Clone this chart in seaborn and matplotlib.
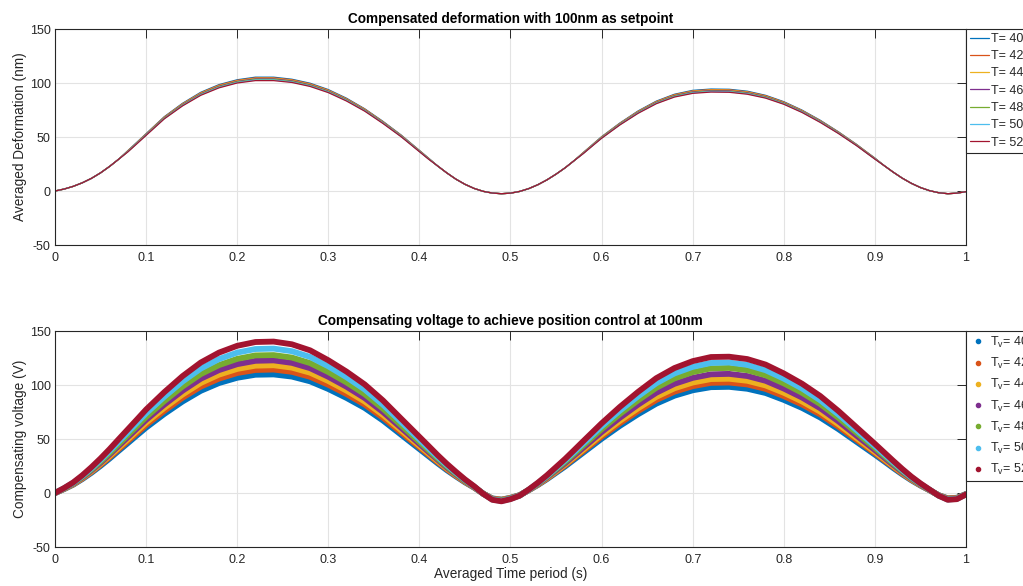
import matplotlib
matplotlib.use("Agg")
import matplotlib.pyplot as plt
from matplotlib.lines import Line2D
import pandas as pd
import seaborn as sns

# ---- data -------------------------------------------------------------
# sample times (s); denser sampling around the turning points
time_s = [0.00, 0.01, 0.02, 0.03, 0.04, 0.05, 0.06, 0.07, 0.08, 0.09, 0.10,
          0.12, 0.14, 0.16, 0.18, 0.20, 0.22, 0.24, 0.26, 0.28, 0.30, 0.32, 0.34, 0.36,
          0.38, 0.39, 0.40, 0.41, 0.42, 0.43, 0.44, 0.45, 0.46, 0.47, 0.48, 0.49,
          0.50, 0.51, 0.52, 0.53, 0.54, 0.55, 0.56, 0.57, 0.58, 0.59, 0.60,
          0.62, 0.64, 0.66, 0.68, 0.70, 0.72, 0.74, 0.76, 0.78, 0.80, 0.82, 0.84, 0.86,
          0.88, 0.89, 0.90, 0.91, 0.92, 0.93, 0.94, 0.95, 0.96, 0.97, 0.98, 0.99, 1.00]

temperatures = [40, 42, 44, 46, 48, 50, 52]

# averaged deformation (nm) for each temperature
deform_T40 = [0, 1.8, 4.3, 7.6, 11.7, 16.8, 22.8, 29.5, 37.4, 45.2, 53.1,
              68.8, 81.2, 91.4, 98.5, 103, 105.4, 105.4, 103.5, 99.8, 93.9, 85.9, 76.1, 64.5,
              51.8, 44.7, 37.6, 30.5, 23.2, 16.8, 11, 6.2, 2.4, -0.3, -1.9, -2.5,
              -2.0, -0.4, 2.2, 5.8, 10.3, 15.6, 21.5, 28.2, 35.7, 43.0, 50.3,
              62.9, 74.1, 83.2, 89.6, 93.2, 94.4, 94.2, 92.4, 88.6, 82.7, 74.9, 65.5, 54.8,
              43.1, 36.7, 30.5, 23.6, 17.5, 11.9, 7.1, 3.2, 0.3, -1.6, -2.5, -2.0, -0.6]
deform_T42 = [0, 1.8, 4.3, 7.6, 11.7, 16.8, 22.8, 29.5, 37.2, 44.9, 52.8,
              68.5, 80.8, 90.9, 98, 102.5, 104.8, 104.8, 103, 99.3, 93.4, 85.4, 75.8, 64.1,
              51.5, 44.4, 37.4, 30.3, 23.2, 16.8, 11, 6.2, 2.4, -0.3, -1.9, -2.5,
              -2.0, -0.4, 2.2, 5.8, 10.3, 15.6, 21.5, 28.2, 35.6, 42.8, 50,
              62.6, 73.7, 82.8, 89.2, 92.7, 93.9, 93.7, 91.9, 88.2, 82.3, 74.5, 65.1, 54.5,
              42.9, 36.6, 30.3, 23.6, 17.5, 11.9, 7.1, 3.2, 0.3, -1.6, -2.5, -2.0, -0.6]
deform_T44 = [0, 1.8, 4.3, 7.6, 11.7, 16.8, 22.8, 29.5, 37.0, 44.7, 52.6,
              68.1, 80.4, 90.5, 97.5, 102, 104.3, 104.3, 102.5, 98.8, 93, 85, 75.4, 63.8,
              51.3, 44.2, 37.2, 30.2, 23.2, 16.8, 11, 6.2, 2.4, -0.3, -1.9, -2.5,
              -2.0, -0.4, 2.2, 5.8, 10.3, 15.6, 21.5, 28.2, 35.4, 42.6, 49.8,
              62.3, 73.4, 82.4, 88.7, 92.3, 93.5, 93.3, 91.5, 87.7, 81.9, 74.2, 64.8, 54.3,
              42.7, 36.4, 30.2, 23.6, 17.5, 11.9, 7.1, 3.2, 0.3, -1.6, -2.5, -2.0, -0.6]
deform_T46 = [0, 1.8, 4.3, 7.6, 11.7, 16.8, 22.8, 29.5, 36.8, 44.5, 52.3,
              67.8, 80, 90, 97, 101.5, 103.8, 103.8, 102, 98.3, 92.5, 84.6, 75, 63.5,
              51, 44, 37, 30, 23.2, 16.8, 11, 6.2, 2.4, -0.3, -1.9, -2.5,
              -2.0, -0.4, 2.2, 5.8, 10.3, 15.6, 21.5, 28.2, 35.2, 42.4, 49.5,
              62, 73, 82, 88.3, 91.8, 93, 92.8, 91, 87.3, 81.5, 73.8, 64.5, 54,
              42.5, 36.2, 30, 23.6, 17.5, 11.9, 7.1, 3.2, 0.3, -1.6, -2.5, -2.0, -0.6]
deform_T48 = [0, 1.8, 4.3, 7.6, 11.7, 16.8, 22.8, 29.5, 36.6, 44.3, 52.0,
              67.5, 79.6, 89.5, 96.5, 101, 103.3, 103.3, 101.5, 97.8, 92, 84.2, 74.6, 63.2,
              50.7, 43.8, 36.8, 29.8, 23.2, 16.8, 11, 6.2, 2.4, -0.3, -1.9, -2.5,
              -2.0, -0.4, 2.2, 5.8, 10.3, 15.6, 21.5, 28.2, 35.0, 42.2, 49.3,
              61.7, 72.6, 81.6, 87.9, 91.3, 92.5, 92.3, 90.5, 86.9, 81.1, 73.4, 64.2, 53.7,
              42.3, 36.0, 29.8, 23.6, 17.5, 11.9, 7.1, 3.2, 0.3, -1.6, -2.5, -2.0, -0.6]
deform_T50 = [0, 1.8, 4.3, 7.6, 11.7, 16.8, 22.8, 29.5, 36.4, 44.1, 51.8,
              67.1, 79.2, 89.1, 96, 100.5, 102.8, 102.8, 101, 97.3, 91.6, 83.8, 74.3, 62.9,
              50.5, 43.6, 36.6, 29.7, 23.2, 16.8, 11, 6.2, 2.4, -0.3, -1.9, -2.5,
              -2.0, -0.4, 2.2, 5.8, 10.3, 15.6, 21.5, 28.2, 34.8, 42.0, 49,
              61.4, 72.3, 81.2, 87.4, 90.9, 92.1, 91.9, 90.1, 86.4, 80.7, 73.1, 63.9, 53.5,
              42.1, 35.8, 29.7, 23.6, 17.5, 11.9, 7.1, 3.2, 0.3, -1.6, -2.5, -2.0, -0.6]
deform_T52 = [0, 1.8, 4.3, 7.6, 11.7, 16.8, 22.8, 29.5, 36.2, 43.8, 51.5,
              66.8, 78.8, 88.6, 95.5, 100, 102.2, 102.2, 100.5, 96.8, 91.1, 83.3, 73.9, 62.5,
              50.2, 43.3, 36.4, 29.5, 23.2, 16.8, 11, 6.2, 2.4, -0.3, -1.9, -2.5,
              -2.0, -0.4, 2.2, 5.8, 10.3, 15.6, 21.5, 28.2, 34.7, 41.8, 48.8,
              61.1, 71.9, 80.8, 87, 90.4, 91.6, 91.4, 89.6, 86, 80.3, 72.7, 63.5, 53.2,
              41.9, 35.7, 29.5, 23.6, 17.5, 11.9, 7.1, 3.2, 0.3, -1.6, -2.5, -2.0, -0.6]

# compensating voltage (V) for each temperature
volt_T40 = [0, 3.6, 7.7, 12.9, 18.7, 25.1, 31.9, 39.1, 46.2, 53.4, 60.5,
            73.2, 84.7, 94.6, 101.8, 106.7, 109.5, 109.8, 107.8, 103.4, 96.3, 88.0, 78.7, 67.1,
            53.9, 47.3, 40.7, 34.1, 27.5, 21.2, 15.4, 9.9, 5.0, -0.6, -5.0, -6.1,
            -4.4, -2.0, 2.5, 7.4, 12.8, 18.7, 24.6, 31.0, 37.4, 43.8, 50.2,
            62.1, 72.9, 82.7, 90.1, 95.1, 98.0, 98.3, 96.5, 92.6, 86.2, 78.8, 69.9, 59.1,
            47.3, 41.4, 35.5, 29.4, 23.2, 17.3, 11.8, 6.9, 2.5, -2.0, -4.9, -4.4, -1.0]
volt_T42 = [0, 3.8, 8.0, 13.4, 19.5, 26.1, 33.2, 40.6, 48.1, 55.5, 63.0,
            76.1, 88.2, 98.5, 105.9, 111.1, 113.9, 114.3, 112.2, 107.6, 100.2, 91.6, 81.9, 69.8,
            56.1, 49.2, 42.4, 35.5, 28.6, 22.1, 16.0, 10.3, 5.2, -0.6, -5.2, -6.3,
            -4.6, -2.1, 2.6, 7.7, 13.3, 19.5, 25.6, 32.3, 39.0, 45.6, 52.3,
            64.6, 75.9, 86.1, 93.8, 98.9, 102.0, 102.3, 100.5, 96.4, 89.7, 82.0, 72.8, 61.5,
            49.2, 43.1, 36.9, 30.5, 24.2, 18.0, 12.3, 7.2, 2.6, -2.1, -5.1, -4.6, -1.0]
volt_T44 = [0, 3.9, 8.3, 13.9, 20.1, 27.0, 34.4, 42.1, 49.8, 57.5, 65.2,
            78.8, 91.2, 101.9, 109.6, 114.9, 117.9, 118.3, 116.1, 111.4, 103.7, 94.8, 84.7, 72.3,
            58.1, 51.0, 43.8, 36.7, 29.6, 22.9, 16.6, 10.7, 5.3, -0.6, -5.3, -6.5,
            -4.8, -2.1, 2.7, 8.0, 13.8, 20.1, 26.5, 33.4, 40.3, 47.2, 54.1,
            66.8, 78.4, 89.0, 97.0, 102.3, 105.5, 105.8, 103.9, 99.6, 92.8, 84.8, 75.3, 63.6,
            50.9, 44.5, 38.2, 31.6, 25.0, 18.7, 12.7, 7.4, 2.7, -2.1, -5.3, -4.8, -1.1]
volt_T46 = [0, 4.1, 8.6, 14.4, 20.9, 28.0, 35.7, 43.7, 51.7, 59.7, 67.7,
            81.8, 94.7, 105.8, 113.8, 119.3, 122.4, 122.8, 120.5, 115.6, 107.6, 98.4, 87.9, 75.0,
            60.3, 52.9, 45.5, 38.1, 30.8, 23.7, 17.2, 11.1, 5.5, -0.6, -5.5, -6.8,
            -5.0, -2.2, 2.8, 8.3, 14.4, 21.0, 27.6, 34.8, 42.0, 49.2, 56.4,
            69.6, 81.8, 92.8, 101.1, 106.6, 109.9, 110.3, 108.3, 103.9, 96.7, 88.4, 78.5, 66.3,
            53.0, 46.4, 39.8, 32.9, 26.1, 19.4, 13.3, 7.7, 2.8, -2.2, -5.5, -5.0, -1.1]
volt_T48 = [0, 4.2, 9.0, 15.0, 21.8, 29.2, 37.1, 45.4, 53.8, 62.1, 70.4,
            85.1, 98.6, 110.1, 118.4, 124.2, 127.4, 127.7, 125.4, 120.3, 112.0, 102.4, 91.5, 78.1,
            62.7, 55.0, 47.4, 39.7, 32.0, 24.7, 17.9, 11.5, 5.8, -0.6, -5.8, -7.0,
            -5.2, -2.3, 2.9, 8.7, 15.1, 22.0, 29.0, 36.5, 44.1, 51.6, 59.2,
            73.1, 85.8, 97.4, 106.1, 111.9, 115.4, 115.8, 113.7, 109.0, 101.5, 92.8, 82.4, 69.6,
            55.7, 48.7, 41.8, 34.6, 27.4, 20.4, 13.9, 8.1, 2.9, -2.3, -5.8, -5.2, -1.2]
volt_T50 = [0, 4.4, 9.4, 15.7, 22.8, 30.6, 38.9, 47.6, 56.3, 65.0, 73.7,
            89.1, 103.2, 115.2, 124.0, 130.0, 133.3, 133.7, 131.3, 126.0, 117.3, 107.2, 95.8, 81.7,
            65.7, 57.6, 49.6, 41.5, 33.5, 25.9, 18.8, 12.1, 6.0, -0.7, -6.0, -7.4,
            -5.4, -2.4, 3.0, 9.1, 15.7, 23.0, 30.3, 38.1, 46.0, 53.8, 61.7,
            76.2, 89.5, 101.6, 110.7, 116.8, 120.4, 120.8, 118.6, 113.7, 105.9, 96.8, 85.9, 72.6,
            58.1, 50.8, 43.6, 36.1, 28.6, 21.3, 14.5, 8.5, 3.0, -2.4, -6.1, -5.4, -1.2]
volt_T52 = [0, 4.6, 9.8, 16.4, 23.9, 32.0, 40.7, 49.9, 59.0, 68.1, 77.3,
            93.4, 108.2, 120.8, 130.0, 136.3, 139.8, 140.2, 137.7, 132.1, 122.9, 112.4, 100.5, 85.7,
            68.8, 60.4, 52.0, 43.6, 35.1, 27.1, 19.7, 12.6, 6.3, -0.7, -6.3, -7.7,
            -5.7, -2.5, 3.2, 9.5, 16.4, 24.0, 31.6, 39.8, 48.1, 56.3, 64.5,
            79.7, 93.6, 106.3, 115.7, 122.1, 125.9, 126.2, 124.0, 118.9, 110.7, 101.2, 89.8, 75.9,
            60.7, 53.1, 45.5, 37.7, 29.9, 22.3, 15.2, 8.9, 3.2, -2.5, -6.3, -5.7, -1.3]

deformations = [deform_T40, deform_T42, deform_T44, deform_T46, deform_T48, deform_T50, deform_T52]
voltages = [volt_T40, volt_T42, volt_T44, volt_T46, volt_T48, volt_T50, volt_T52]

x_ticks = [0, 0.1, 0.2, 0.3, 0.4, 0.5, 0.6, 0.7, 0.8, 0.9, 1]
x_tick_labels = ["0", "0.1", "0.2", "0.3", "0.4", "0.5", "0.6", "0.7", "0.8", "0.9", "1"]
y_ticks = [-50, 0, 50, 100, 150]

# MATLAB default line colour order
line_colors = ["#0072BD", "#D95319", "#EDB120", "#7E2F8E", "#77AC30", "#4DBEEE", "#A2142F"]


def long_table(series_list):
    rows = []
    for temp, values in zip(temperatures, series_list):
        assert len(values) == len(time_s)
        for t, v in zip(time_s, values):
            rows.append({"time": t, "value": v, "T": temp})
    return pd.DataFrame(rows)


df_def = long_table(deformations)
df_volt = long_table(voltages)

# ---- styling ----------------------------------------------------------
sns.set_theme(style="white")
plt.rcParams["font.family"] = ["Liberation Sans", "DejaVu Sans"]
plt.rcParams["mathtext.fontset"] = "custom"
plt.rcParams["mathtext.rm"] = "Liberation Sans"
plt.rcParams["mathtext.it"] = "Liberation Sans"
plt.rcParams["axes.unicode_minus"] = False

W, H = 1023, 586
fig = plt.figure(figsize=(W / 100, H / 100), dpi=100)
ax_left = 55 / W
ax_width = 911 / W
ax_height = 216 / H
ax1 = fig.add_axes([ax_left, 1 - 245 / H, ax_width, ax_height])
ax2 = fig.add_axes([ax_left, 1 - 547 / H, ax_width, ax_height])

palette = dict(zip(temperatures, line_colors))

sns.lineplot(data=df_def, x="time", y="value", hue="T", palette=palette,
             linewidth=0.9, legend=False, sort=False, estimator=None, ax=ax1)
sns.lineplot(data=df_volt, x="time", y="value", hue="T", palette=palette,
             linewidth=4.2, legend=False, sort=False, estimator=None, ax=ax2)

axis_color = "#262626"
tick_fs = 9
label_fs = 9.8
for ax in (ax1, ax2):
    ax.set_xlim(0, 1)
    ax.set_ylim(-50, 150)
    ax.set_xticks(x_ticks)
    ax.set_xticklabels(x_tick_labels)
    ax.set_yticks(y_ticks)
    ax.grid(True, color="#e3e3e3", linewidth=0.8)
    ax.set_axisbelow(True)
    ax.tick_params(direction="in", length=6.5, width=0.7, colors=axis_color,
                   top=True, right=True, labelsize=tick_fs, pad=3)
    ax.tick_params(axis="x", pad=5)
    for sp in ax.spines.values():
        sp.set_visible(True)
        sp.set_color(axis_color)
        sp.set_linewidth(0.8)
    ax.set_xlabel("")

ax1.set_title("Compensated deformation with 100nm as setpoint",
              fontsize=label_fs, fontweight="bold", color="black", pad=4)
ax2.set_title("Compensating voltage to achieve position control at 100nm",
              fontsize=label_fs, fontweight="bold", color="black", pad=4)
ax1.set_ylabel("Averaged Deformation (nm)", fontsize=label_fs, color=axis_color, labelpad=2)
ax2.set_ylabel("Compensating voltage (V)", fontsize=label_fs, color=axis_color, labelpad=2)
ax2.set_xlabel("Averaged Time period (s)", fontsize=label_fs, color=axis_color, labelpad=1)

# legends placed against the right edge of each axes
leg_fs = 9
h1 = [Line2D([], [], color=c, lw=0.9) for c in line_colors]
l1 = [f"T= {t}" for t in temperatures]
leg1 = ax1.legend(h1, l1, loc="upper left", bbox_to_anchor=(1.0, 1.0), borderaxespad=0,
                  fontsize=leg_fs, frameon=True, fancybox=False, framealpha=1,
                  edgecolor=axis_color, handlelength=1.55, handletextpad=0.1,
                  labelspacing=0.42, borderpad=0.32)
leg1.get_frame().set_linewidth(0.8)

h2 = [Line2D([], [], color=c, lw=0, marker=".", markersize=6) for c in line_colors]
l2 = [r"T$_\mathregular{v}$= " + str(t) for t in temperatures]
leg2 = ax2.legend(h2, l2, loc="upper left", bbox_to_anchor=(1.0, 1.0), borderaxespad=0,
                  fontsize=leg_fs, frameon=True, fancybox=False, framealpha=1,
                  edgecolor=axis_color, handlelength=1.3, handletextpad=0.32,
                  labelspacing=0.49, borderpad=0.3)
leg2.get_frame().set_linewidth(0.8)

fig.savefig("out.png", dpi=100)
